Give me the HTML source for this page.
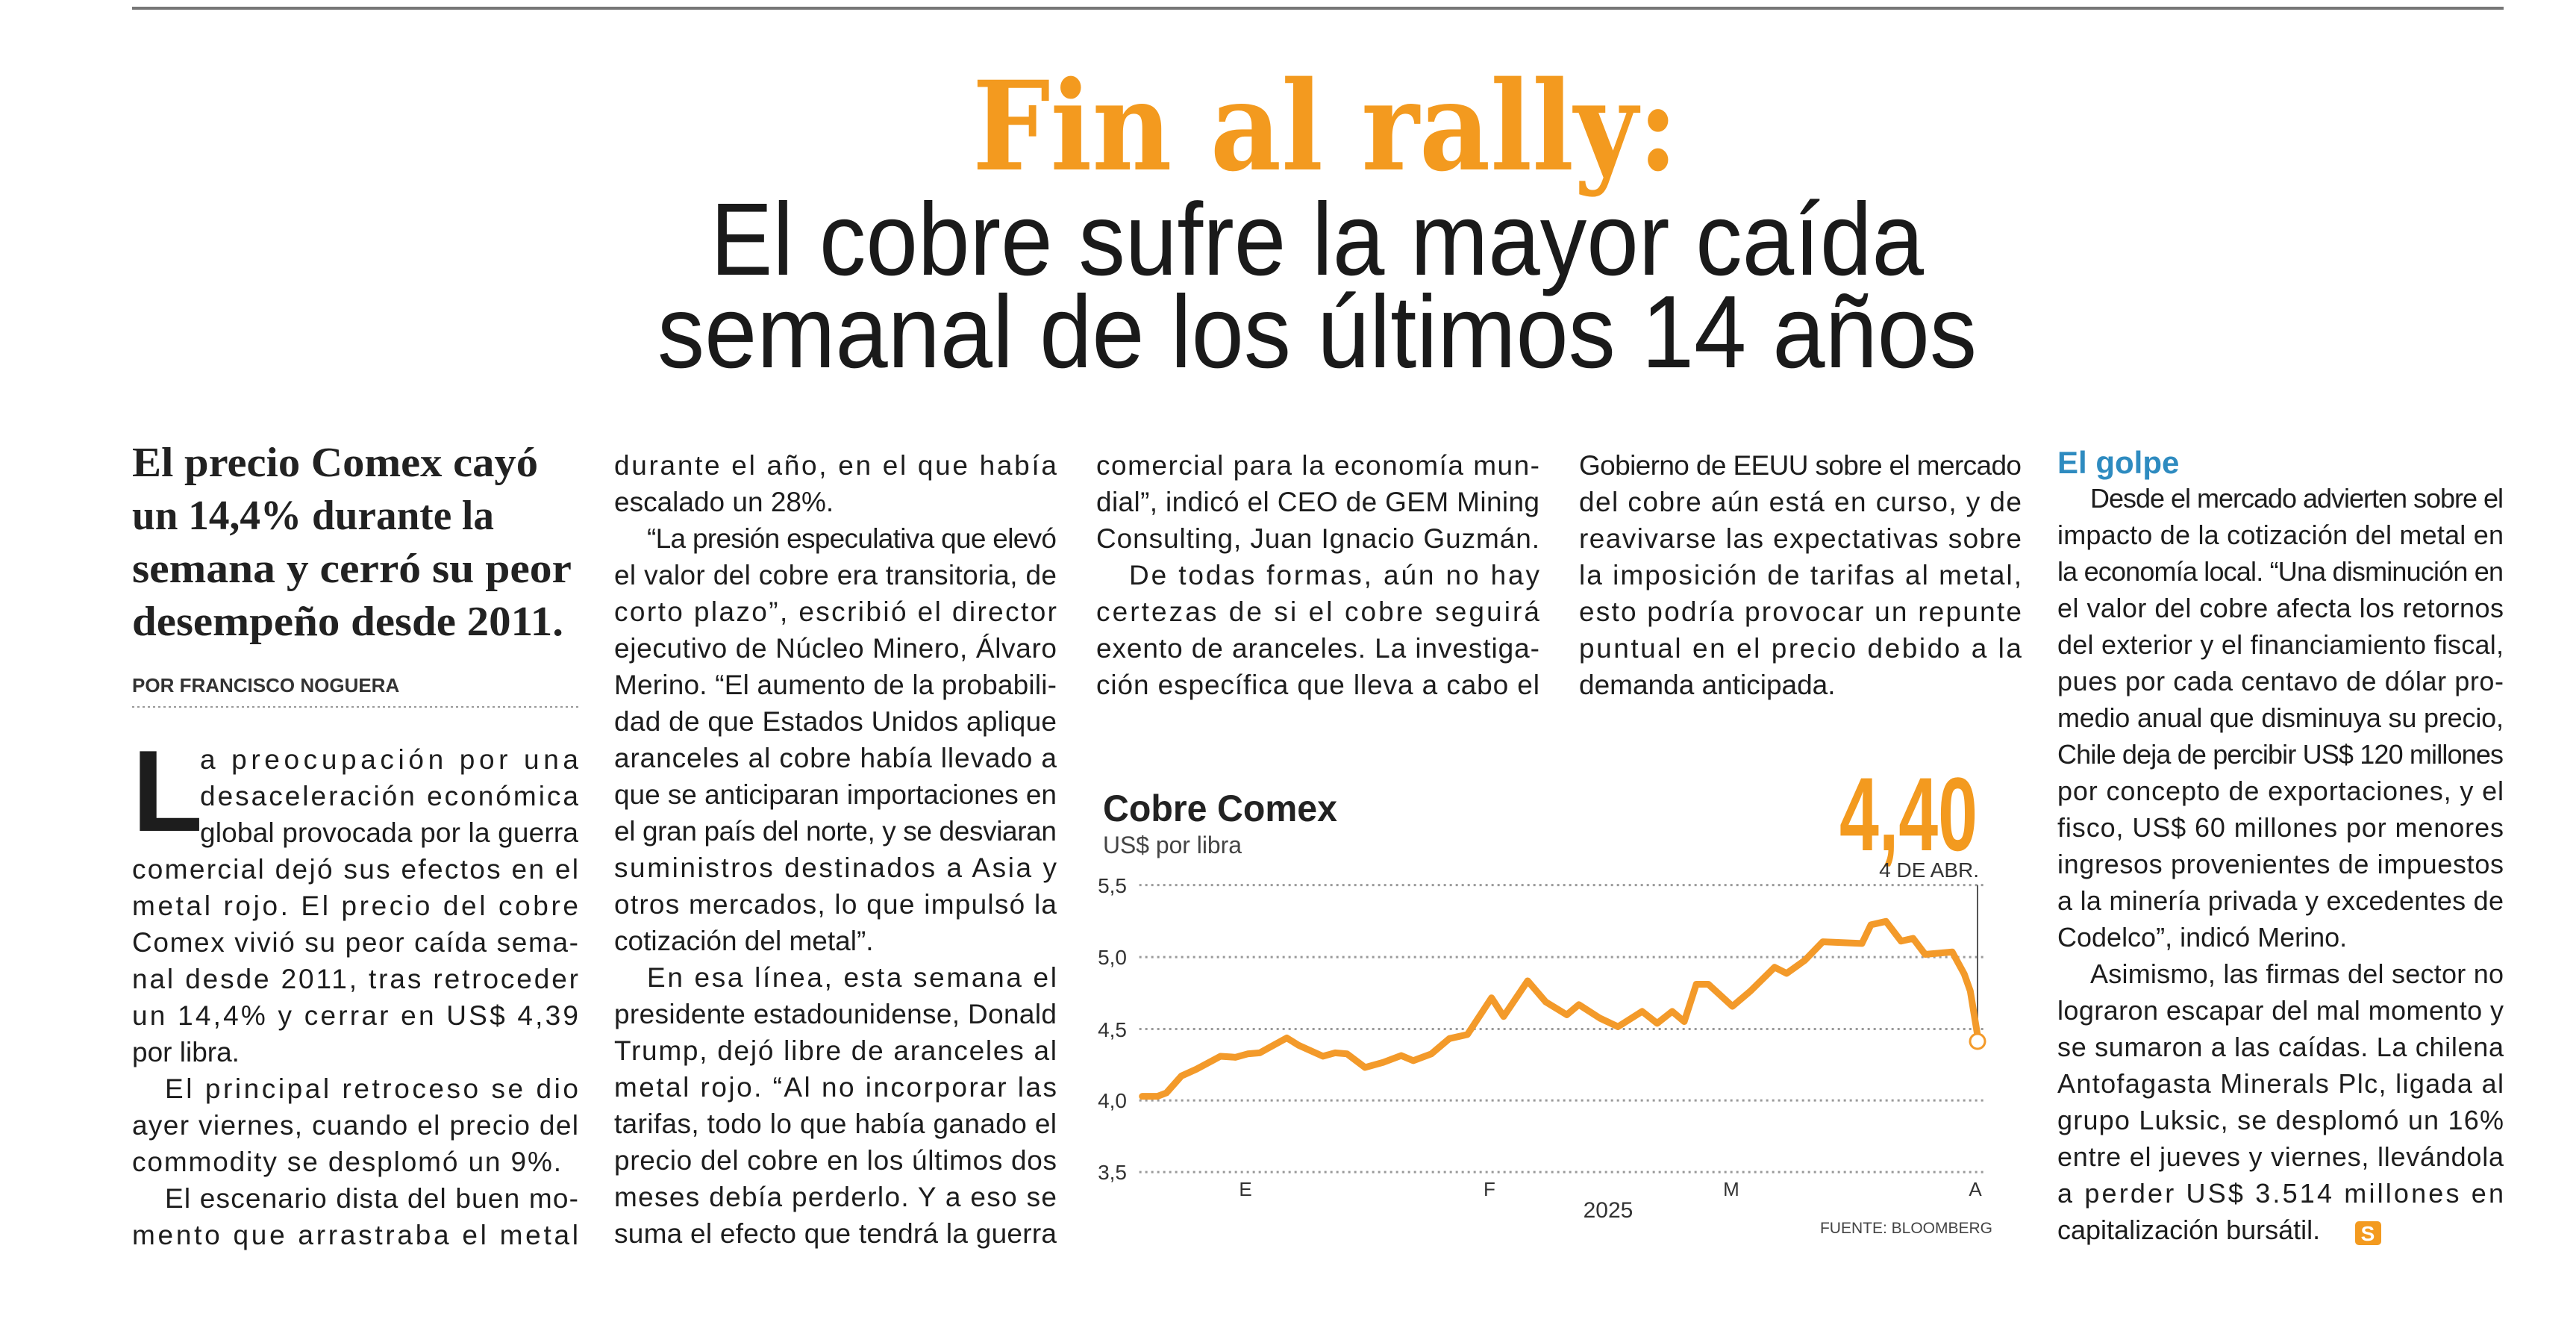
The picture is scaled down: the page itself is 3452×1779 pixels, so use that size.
<!DOCTYPE html>
<html><head><meta charset="utf-8"><style>
html,body{margin:0;padding:0;background:#fff}
svg{display:block}
.b{font-family:"Liberation Sans Narrow","Liberation Sans",sans-serif;font-size:37px;fill:#1d1d1d}
.c5{font-size:36px}
</style></head><body>
<svg width="3452" height="1779" viewBox="0 0 3452 1779" xmlns="http://www.w3.org/2000/svg">
<rect width="3452" height="1779" fill="#fff"/>
<rect x="177" y="9" width="3178" height="4" fill="#777"/>
<text x="1303" y="227" textLength="946" lengthAdjust="spacingAndGlyphs" font-family="DejaVu Serif, Liberation Serif, serif" font-weight="bold" font-size="165" fill="#f39a1f">Fin al rally:</text>
<text x="952" y="368" textLength="1626" lengthAdjust="spacingAndGlyphs" font-family="Liberation Sans Narrow, Liberation Sans, sans-serif" font-size="138" fill="#1a1a1a">El cobre sufre la mayor caída</text>
<text x="881" y="492" textLength="1768" lengthAdjust="spacingAndGlyphs" font-family="Liberation Sans Narrow, Liberation Sans, sans-serif" font-size="138" fill="#1a1a1a">semanal de los últimos 14 años</text>

<g font-family="Liberation Serif, serif" font-weight="bold" font-size="56" fill="#222">
<text x="177" y="638" textLength="544" lengthAdjust="spacingAndGlyphs">El precio Comex cayó</text>
<text x="177" y="709" textLength="485" lengthAdjust="spacingAndGlyphs">un 14,4% durante la</text>
<text x="177" y="780" textLength="589" lengthAdjust="spacingAndGlyphs">semana y cerró su peor</text>
<text x="177" y="851" textLength="578" lengthAdjust="spacingAndGlyphs">desempeño desde 2011.</text>
</g>
<text x="177" y="927" font-family="Liberation Sans Narrow, Liberation Sans, sans-serif" font-weight="bold" font-size="26" fill="#333">POR FRANCISCO NOGUERA</text>
<line x1="177" y1="947" x2="775" y2="947" stroke="#999" stroke-width="2" stroke-dasharray="3 4"/>
<text x="177" y="1113" font-family="Liberation Sans Narrow, Liberation Sans, sans-serif" font-weight="bold" font-size="155" fill="#1d1d1d">L</text>

<g class="b">
<text x="268" y="1030" textLength="507" lengthAdjust="spacing">a preocupación por una</text>
<text x="268" y="1079" textLength="507" lengthAdjust="spacing">desaceleración económica</text>
<text x="268" y="1128" textLength="507" lengthAdjust="spacing">global provocada por la guerra</text>
<text x="177" y="1177" textLength="598" lengthAdjust="spacing">comercial dejó sus efectos en el</text>
<text x="177" y="1226" textLength="598" lengthAdjust="spacing">metal rojo. El precio del cobre</text>
<text x="177" y="1275" textLength="598" lengthAdjust="spacing">Comex vivió su peor caída sema-</text>
<text x="177" y="1324" textLength="598" lengthAdjust="spacing">nal desde 2011, tras retroceder</text>
<text x="177" y="1373" textLength="598" lengthAdjust="spacing">un 14,4% y cerrar en US$ 4,39</text>
<text x="177" y="1422">por libra.</text>
<text x="221" y="1471" textLength="554" lengthAdjust="spacing">El principal retroceso se dio</text>
<text x="177" y="1520" textLength="598" lengthAdjust="spacing">ayer viernes, cuando el precio del</text>
<text x="177" y="1569" textLength="575" lengthAdjust="spacing">commodity se desplomó un 9%.</text>
<text x="221" y="1618" textLength="554" lengthAdjust="spacing">El escenario dista del buen mo-</text>
<text x="177" y="1667" textLength="598" lengthAdjust="spacing">mento que arrastraba el metal</text>

<text x="823" y="636" textLength="593" lengthAdjust="spacing">durante el año, en el que había</text>
<text x="823" y="685">escalado un 28%.</text>
<text x="867" y="734" textLength="549" lengthAdjust="spacing">“La presión especulativa que elevó</text>
<text x="823" y="783" textLength="593" lengthAdjust="spacing">el valor del cobre era transitoria, de</text>
<text x="823" y="832" textLength="593" lengthAdjust="spacing">corto plazo”, escribió el director</text>
<text x="823" y="881" textLength="593" lengthAdjust="spacing">ejecutivo de Núcleo Minero, Álvaro</text>
<text x="823" y="930" textLength="593" lengthAdjust="spacing">Merino. “El aumento de la probabili-</text>
<text x="823" y="979" textLength="593" lengthAdjust="spacing">dad de que Estados Unidos aplique</text>
<text x="823" y="1028" textLength="593" lengthAdjust="spacing">aranceles al cobre había llevado a</text>
<text x="823" y="1077" textLength="593" lengthAdjust="spacing">que se anticiparan importaciones en</text>
<text x="823" y="1126" textLength="593" lengthAdjust="spacing">el gran país del norte, y se desviaran</text>
<text x="823" y="1175" textLength="593" lengthAdjust="spacing">suministros destinados a Asia y</text>
<text x="823" y="1224" textLength="593" lengthAdjust="spacing">otros mercados, lo que impulsó la</text>
<text x="823" y="1273">cotización del metal”.</text>
<text x="867" y="1322" textLength="549" lengthAdjust="spacing">En esa línea, esta semana el</text>
<text x="823" y="1371" textLength="593" lengthAdjust="spacing">presidente estadounidense, Donald</text>
<text x="823" y="1420" textLength="593" lengthAdjust="spacing">Trump, dejó libre de aranceles al</text>
<text x="823" y="1469" textLength="593" lengthAdjust="spacing">metal rojo. “Al no incorporar las</text>
<text x="823" y="1518" textLength="593" lengthAdjust="spacing">tarifas, todo lo que había ganado el</text>
<text x="823" y="1567" textLength="593" lengthAdjust="spacing">precio del cobre en los últimos dos</text>
<text x="823" y="1616" textLength="593" lengthAdjust="spacing">meses debía perderlo. Y a eso se</text>
<text x="823" y="1665" textLength="593" lengthAdjust="spacing">suma el efecto que tendrá la guerra</text>

<text x="1469" y="636" textLength="594" lengthAdjust="spacing">comercial para la economía mun-</text>
<text x="1469" y="685" textLength="594" lengthAdjust="spacing">dial”, indicó el CEO de GEM Mining</text>
<text x="1469" y="734" textLength="594" lengthAdjust="spacing">Consulting, Juan Ignacio Guzmán.</text>
<text x="1513" y="783" textLength="550" lengthAdjust="spacing">De todas formas, aún no hay</text>
<text x="1469" y="832" textLength="594" lengthAdjust="spacing">certezas de si el cobre seguirá</text>
<text x="1469" y="881" textLength="594" lengthAdjust="spacing">exento de aranceles. La investiga-</text>
<text x="1469" y="930" textLength="594" lengthAdjust="spacing">ción específica que lleva a cabo el</text>

<text x="2116" y="636" textLength="593" lengthAdjust="spacing">Gobierno de EEUU sobre el mercado</text>
<text x="2116" y="685" textLength="593" lengthAdjust="spacing">del cobre aún está en curso, y de</text>
<text x="2116" y="734" textLength="593" lengthAdjust="spacing">reavivarse las expectativas sobre</text>
<text x="2116" y="783" textLength="593" lengthAdjust="spacing">la imposición de tarifas al metal,</text>
<text x="2116" y="832" textLength="593" lengthAdjust="spacing">esto podría provocar un repunte</text>
<text x="2116" y="881" textLength="593" lengthAdjust="spacing">puntual en el precio debido a la</text>
<text x="2116" y="930">demanda anticipada.</text>
</g>

<text x="2757" y="634" font-family="Liberation Sans Narrow, Liberation Sans, sans-serif" font-weight="bold" font-size="42" fill="#2e8bc0">El golpe</text>
<g class="b c5">
<text x="2801" y="680" textLength="554" lengthAdjust="spacing">Desde el mercado advierten sobre el</text>
<text x="2757" y="729" textLength="598" lengthAdjust="spacing">impacto de la cotización del metal en</text>
<text x="2757" y="778" textLength="598" lengthAdjust="spacing">la economía local. “Una disminución en</text>
<text x="2757" y="827" textLength="598" lengthAdjust="spacing">el valor del cobre afecta los retornos</text>
<text x="2757" y="876" textLength="598" lengthAdjust="spacing">del exterior y el financiamiento fiscal,</text>
<text x="2757" y="925" textLength="598" lengthAdjust="spacing">pues por cada centavo de dólar pro-</text>
<text x="2757" y="974" textLength="598" lengthAdjust="spacing">medio anual que disminuya su precio,</text>
<text x="2757" y="1023" textLength="598" lengthAdjust="spacing">Chile deja de percibir US$ 120 millones</text>
<text x="2757" y="1072" textLength="598" lengthAdjust="spacing">por concepto de exportaciones, y el</text>
<text x="2757" y="1121" textLength="598" lengthAdjust="spacing">fisco, US$ 60 millones por menores</text>
<text x="2757" y="1170" textLength="598" lengthAdjust="spacing">ingresos provenientes de impuestos</text>
<text x="2757" y="1219" textLength="598" lengthAdjust="spacing">a la minería privada y excedentes de</text>
<text x="2757" y="1268">Codelco”, indicó Merino.</text>
<text x="2801" y="1317" textLength="554" lengthAdjust="spacing">Asimismo, las firmas del sector no</text>
<text x="2757" y="1366" textLength="598" lengthAdjust="spacing">lograron escapar del mal momento y</text>
<text x="2757" y="1415" textLength="598" lengthAdjust="spacing">se sumaron a las caídas. La chilena</text>
<text x="2757" y="1464" textLength="598" lengthAdjust="spacing">Antofagasta Minerals Plc, ligada al</text>
<text x="2757" y="1513" textLength="598" lengthAdjust="spacing">grupo Luksic, se desplomó un 16%</text>
<text x="2757" y="1562" textLength="598" lengthAdjust="spacing">entre el jueves y viernes, llevándola</text>
<text x="2757" y="1611" textLength="598" lengthAdjust="spacing">a perder US$ 3.514 millones en</text>
<text x="2757" y="1660">capitalización bursátil.</text>
</g>
<rect x="3156" y="1636" width="35" height="32" rx="5" fill="#f39a1f"/>
<text x="3173" y="1662" text-anchor="middle" font-family="Liberation Sans, sans-serif" font-weight="bold" font-size="28" fill="#fff">S</text>

<text x="1478" y="1100" textLength="314" lengthAdjust="spacingAndGlyphs" font-family="Liberation Sans Narrow, Liberation Sans, sans-serif" font-weight="bold" font-size="50" fill="#222">Cobre Comex</text>
<text x="1478" y="1143" textLength="186" lengthAdjust="spacingAndGlyphs" font-family="Liberation Sans Narrow, Liberation Sans, sans-serif" font-size="32" fill="#444">US$ por libra</text>
<text x="2465" y="1139" textLength="185" lengthAdjust="spacingAndGlyphs" font-family="Liberation Sans Narrow, Liberation Sans, sans-serif" font-weight="bold" font-size="140" fill="#f39a1f">4,40</text>
<text x="2652" y="1175" text-anchor="end" font-family="Liberation Sans Narrow, Liberation Sans, sans-serif" font-size="28" fill="#333">4 DE ABR.</text>
<g transform="translate(1450,1000) scale(0.807,0.455)" fill="none">
<g stroke="#9a9a9a" stroke-width="3" stroke-dasharray="3 5">
<line x1="95" y1="408" x2="1500" y2="408" vector-effect="non-scaling-stroke"/>
<line x1="95" y1="620" x2="1500" y2="620" vector-effect="non-scaling-stroke"/>
<line x1="95" y1="832" x2="1500" y2="832" vector-effect="non-scaling-stroke"/>
<line x1="95" y1="1042" x2="1500" y2="1042" vector-effect="non-scaling-stroke"/>
<line x1="95" y1="1253" x2="1500" y2="1253" vector-effect="non-scaling-stroke"/>
</g>
<line x1="1487" y1="408" x2="1487" y2="845" stroke="#555" stroke-width="2" vector-effect="non-scaling-stroke"/>
<polyline stroke="#f39a2a" stroke-width="9" stroke-linejoin="round" stroke-linecap="round" vector-effect="non-scaling-stroke" points="100,1030 125,1030 140,1020 165,970 190,950 230,912 255,915 275,905 295,902 340,858 360,880 400,912 420,902 440,905 470,945 500,930 530,910 550,925 580,905 610,860 640,848 680,740 700,795 740,690 770,752 805,790 825,760 860,800 890,825 930,780 955,815 980,780 1000,810 1020,700 1040,700 1080,765 1110,720 1150,650 1170,668 1200,630 1230,575 1295,580 1310,525 1335,515 1360,573 1380,565 1400,612 1445,605 1465,670 1475,720 1487,850"/>
</g>
<circle cx="2650" cy="1395" r="10" fill="#fff" stroke="#f39a2a" stroke-width="3"/>
<g font-family="Liberation Sans Narrow, Liberation Sans, sans-serif" font-size="28" fill="#333" text-anchor="end">
<text x="1510" y="1196">5,5</text>
<text x="1510" y="1292">5,0</text>
<text x="1510" y="1389">4,5</text>
<text x="1510" y="1484">4,0</text>
<text x="1510" y="1580">3,5</text>
</g>
<g font-family="Liberation Sans Narrow, Liberation Sans, sans-serif" font-size="26" fill="#333" text-anchor="middle">
<text x="1669" y="1602">E</text>
<text x="1996" y="1602">F</text>
<text x="2320" y="1602">M</text>
<text x="2647" y="1602">A</text>
<text x="2155" y="1631" font-size="30">2025</text>
</g>
<text x="2670" y="1652" text-anchor="end" font-family="Liberation Sans Narrow, Liberation Sans, sans-serif" font-size="21" fill="#444">FUENTE: BLOOMBERG</text>
</svg>
</body></html>
